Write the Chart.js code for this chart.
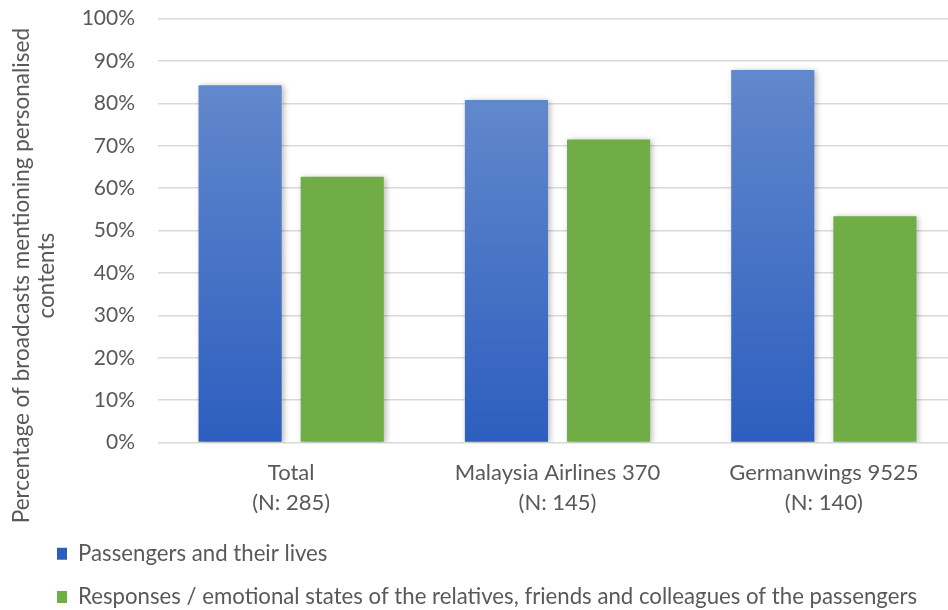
<!DOCTYPE html>
<html>
<head>
<meta charset="utf-8">
<script src="https://cdn.jsdelivr.net/npm/chart.js@4.4.1/dist/chart.umd.min.js"></script>
<style>
  html, body { margin: 0; padding: 0; background: #fff; overflow: hidden; }
  /* plot area runs a few px past the right edge, as in the original crop */
  #wrap { width: 957px; height: 610px; }
</style>
</head>
<body>
<div id="wrap"><canvas id="broadcastChart"></canvas></div>
<script>
// categories and series
const categories = [
  ['Total', '(N: 285)'],
  ['Malaysia Airlines 370', '(N: 145)'],
  ['Germanwings 9525', '(N: 140)']
];
const seriesNames = [
  'Passengers and their lives',
  'Responses / emotional states of the relatives, friends and colleagues of the passengers'
];
const passengersLives = [84.3, 80.8, 87.9];
const responsesEmotional = [62.7, 71.5, 53.4];
const yTickLabels = ['0%', '10%', '20%', '30%', '40%', '50%', '60%', '70%', '80%', '90%', '100%'];
const yTitleLines = ['Percentage of broadcasts mentioning personalised', 'contents'];

const FONT = 'Lato, "Noto Sans", sans-serif';
const TEXT = '#595959';
const GREEN = '#70AD47';

// blue bars get a top-to-bottom gradient, like the original
const blueFill = (context) => {
  const chart = context.chart;
  if (!chart.chartArea || context.parsed == null) return '#4472C4';
  const y = chart.scales.y;
  const top = y.getPixelForValue(context.parsed.y);
  const bottom = y.getPixelForValue(0);
  const g = chart.ctx.createLinearGradient(0, top, 0, bottom);
  g.addColorStop(0, '#6288CC');
  g.addColorStop(1, '#2D5EBF');
  return g;
};

const barShadow = {
  id: 'barShadow',
  beforeDatasetsDraw(chart) {
    const ctx = chart.ctx;
    ctx.save();
    ctx.shadowColor = 'rgba(0, 0, 0, 0.28)';
    ctx.shadowBlur = 6;
    ctx.shadowOffsetX = 2;
    ctx.shadowOffsetY = 1;
  },
  afterDatasetsDraw(chart) {
    chart.ctx.restore();
  }
};

const yTitle = {
  id: 'yTitle',
  afterDraw(chart) {
    const ctx = chart.ctx;
    const area = chart.chartArea;
    ctx.save();
    ctx.translate(22, (area.top + area.bottom) / 2 + 45);
    ctx.rotate(-Math.PI / 2);
    ctx.font = '22.5px ' + FONT;
    ctx.fillStyle = TEXT;
    ctx.textAlign = 'center';
    ctx.textBaseline = 'middle';
    yTitleLines.forEach((line, i) => ctx.fillText(line, 0, i * 25));
    ctx.restore();
  }
};

new Chart(document.getElementById('broadcastChart'), {
  type: 'bar',
  data: {
    labels: categories,
    datasets: [
      {
        label: seriesNames[0],
        data: passengersLives,
        backgroundColor: blueFill,
        categoryPercentage: 0.767,
        barPercentage: 0.814
      },
      {
        label: seriesNames[1],
        data: responsesEmotional,
        backgroundColor: GREEN,
        categoryPercentage: 0.767,
        barPercentage: 0.814
      }
    ]
  },
  options: {
    responsive: true,
    maintainAspectRatio: false,
    animation: false,
    layout: { padding: { top: 0, left: 36, right: 0, bottom: -8 } },
    scales: {
      x: {
        grid: { display: false },
        border: { display: false },
        ticks: {
          color: TEXT,
          font: { family: FONT, size: 22, lineHeight: 1.36 },
          padding: 7,
          maxRotation: 0,
          autoSkip: false
        },
        afterFit(scale) { scale.height = 79; }
      },
      y: {
        min: 0,
        max: 100,
        // invisible tick marks push the labels left without padding the top
        grid: { color: '#D9D9D9', lineWidth: 1.5, drawTicks: true, tickLength: 17, tickColor: 'rgba(0,0,0,0)' },
        border: { display: false },
        ticks: {
          stepSize: 10,
          color: TEXT,
          padding: 6,
          font: { family: FONT, size: 21 },
          callback: (v, i) => yTickLabels[i]
        },
        afterFit(scale) { scale.width = 122; }
      }
    },
    plugins: {
      legend: {
        position: 'bottom',
        align: 'start',
        labels: {
          boxWidth: 10,
          boxHeight: 12,
          padding: 21,
          color: TEXT,
          font: { family: FONT, size: 22.2 }
        }
      },
      tooltip: { enabled: false }
    }
  },
  plugins: [barShadow, yTitle]
});
</script>
</body>
</html>
